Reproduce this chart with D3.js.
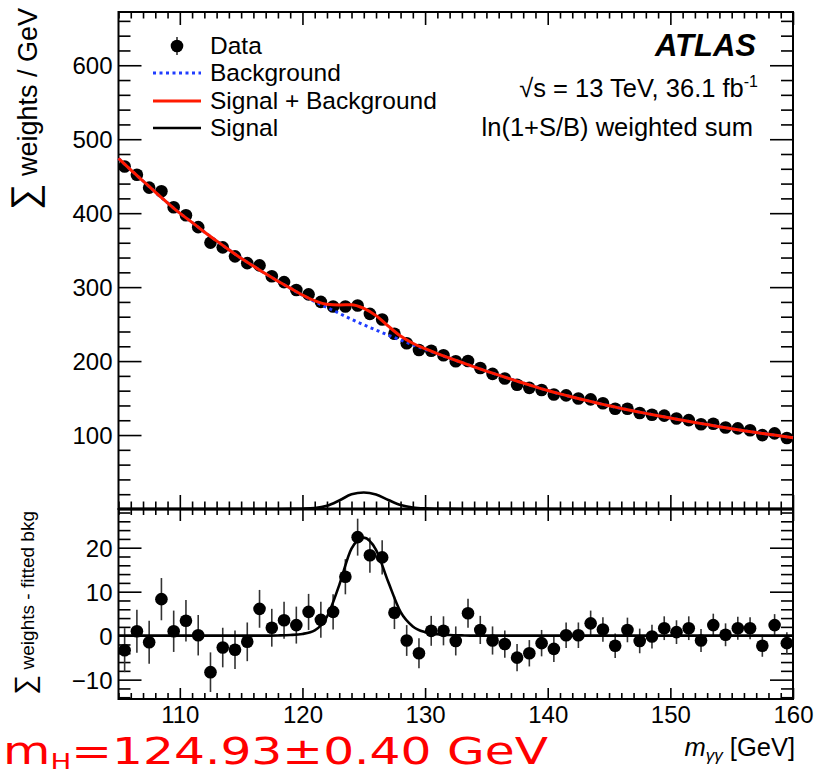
<!DOCTYPE html>
<html>
<head>
<meta charset="utf-8">
<script src="https://cdn.jsdelivr.net/npm/d3@7"></script>
<style>
body { margin: 0; background: #fff; }
text { font-family: "Liberation Sans", Arial, sans-serif; fill: #000; }
</style>
</head>
<body>
<div id="chart"></div>
<script>
// 1 GeV bins of m_yy
var massBins = [105.5,106.5,107.5,108.5,109.5,110.5,111.5,112.5,113.5,114.5,
  115.5,116.5,117.5,118.5,119.5,120.5,121.5,122.5,123.5,124.5,
  125.5,126.5,127.5,128.5,129.5,130.5,131.5,132.5,133.5,134.5,
  135.5,136.5,137.5,138.5,139.5,140.5,141.5,142.5,143.5,144.5,
  145.5,146.5,147.5,148.5,149.5,150.5,151.5,152.5,153.5,154.5,
  155.5,156.5,157.5,158.5,159.5];

// sum of weights per GeV (upper panel)
var weightSum = [463.0,452.0,434.5,429.6,408.0,397.2,381.1,360.2,353.8,341.6,
  332.4,329.4,314.8,306.8,296.2,290.2,280.1,273.9,273.9,275.2,
  263.8,256.3,237.0,224.2,215.0,214.0,207.9,199.7,200.2,190.7,
  182.7,176.4,168.0,163.8,161.0,154.9,153.6,149.5,148.2,142.9,
  135.5,135.6,129.8,127.5,126.3,122.4,120.2,114.5,115.2,110.1,
  109.0,106.4,99.9,102.3,95.9];

// weights - fitted bkg (lower panel)
var residuals = [-3.3,1.0,-1.5,8.3,1.0,3.4,0.1,-8.3,-2.7,-3.2,
  -1.4,6.1,1.8,3.5,2.4,5.4,3.6,5.4,13.4,22.4,
  18.3,17.8,5.2,-1.1,-4.0,1.1,1.1,-1.2,5.1,1.3,
  -1.1,-1.9,-5.0,-4.0,-1.7,-3.0,0.1,0.1,2.8,1.4,
  -2.3,1.3,-1.2,-0.2,1.7,0.8,1.7,-1.1,2.4,0.2,
  1.7,1.7,-2.3,2.4,-1.7];

var errors = [5.0,4.9,4.9,4.8,4.7,4.7,4.6,4.5,4.5,4.4,
  4.4,4.3,4.3,4.2,4.2,4.1,4.1,4.0,4.0,4.2,
  4.0,3.9,3.7,3.5,3.4,3.4,3.3,3.3,3.3,3.2,
  3.2,3.1,3.1,3.0,3.0,3.0,2.9,2.9,2.9,2.8,
  2.8,2.8,2.8,2.7,2.7,2.7,2.7,2.6,2.6,2.6,
  2.6,2.5,2.5,2.5,2.5];

// fit curves, sampled every GeV
var fitMass = [105,106,107,108,109,110,111,112,113,114,
  115,116,117,118,119,120,121,122,123,124,
  125,126,127,128,129,130,131,132,133,134,
  135,136,137,138,139,140,141,142,143,144,
  145,146,147,148,149,150,151,152,153,154,
  155,156,157,158,159,160];

var bkgFit = [474,458.5,443.5,428.5,414,400,387.5,374.5,362.5,350.5,
  339,328.5,318,308,298.5,289,280.5,272.5,264.5,256.5,
  249,242,235,228.5,222,216,209.8,203.8,198,192.2,
  186.5,181,175.6,170.4,165.2,160.2,155.6,151.4,147.4,143.4,
  139.5,136,132.6,129.3,126.1,123,120,117,114.2,111.3,
  108.5,105.9,103.4,101,98.7,96.4];

var sigBkgFit = [474,458.5,443.5,428.5,414,400,387.5,374.5,362.5,350.5,
  339,328.5,318,308.05,298.65,289.4,281.7,276.8,276,276.3,
  271.3,261.5,247.2,233.9,224.1,216.8,210.15,203.95,198.06,192.2,
  186.5,181,175.6,170.4,165.2,160.2,155.6,151.4,147.4,143.4,
  139.5,136,132.6,129.3,126.1,123,120,117,114.2,111.3,
  108.5,105.9,103.4,101,98.7,96.4];

var signalFit = [0,0,0,0,0,0,0,0,0,0,
  0,0,0,0.05,0.15,0.4,1.2,4.3,11.5,19.8,
  22.3,19.5,12.2,5.4,2.1,0.8,0.35,0.15,0.06,0,
  0,0,0,0,0,0,0,0,0,0,
  0,0,0,0,0,0,0,0,0,0,
  0,0,0,0,0,0];

var xLabels = [110,120,130,140,150,160];
var yTopLabels = [100,200,300,400,500,600];
var yBotLabels = [-10,0,10,20];

var legendNames = ["Data","Background","Signal + Background","Signal"];

var FS = 24;   // main font size
var RED = "#ff1a00", BLUE = "#1f3cff";

var svg = d3.select("#chart").append("svg")
  .attr("width", 816)
  .attr("height", 777);

var x = d3.scaleLinear().domain([105, 160]).range([118.5, 793]);
var yTop = d3.scaleLinear().domain([0, 672]).range([509, 12]);
var yBot = d3.scaleLinear().domain([-14.4, 28.8]).range([699, 509]);

// ---- axes (ROOT style: ticks inside, on all four sides)
function addAxis(axisFn, scale, at, values, size, labelled) {
  var ax = axisFn(scale).tickValues(values).tickSize(size).tickPadding(labelled ? 6 : 0);
  if (!labelled) ax.tickFormat("");
  var g = svg.append("g").attr("transform", at).call(ax);
  g.select(".domain").remove();
  g.selectAll("line").attr("stroke", "#000").attr("stroke-width", 1.6);
  g.selectAll("text").attr("font-size", FS).attr("fill", "#000")
    .style("font-family", "'Liberation Sans', Arial, sans-serif");
  return g;
}

var xMinor = x.ticks(55).filter(v => xLabels.indexOf(v) < 0);
var yTopMinor = yTop.ticks(34).filter(v => v > 0 && yTopLabels.indexOf(v) < 0);
var yBotMinor = yBot.ticks(22).filter(v => yBotLabels.indexOf(v) < 0);

// upper panel
addAxis(d3.axisLeft, yTop, "translate(118.5,0)", yTopLabels, -23, true)
  .selectAll("text").attr("x", -6).attr("dy", "0.36em");
addAxis(d3.axisLeft, yTop, "translate(118.5,0)", yTopMinor, -12, false);
addAxis(d3.axisRight, yTop, "translate(793,0)", yTopLabels, -23, false);
addAxis(d3.axisRight, yTop, "translate(793,0)", yTopMinor, -12, false);
addAxis(d3.axisTop, x, "translate(0,12)", xLabels, -13, false);
addAxis(d3.axisTop, x, "translate(0,12)", xMinor, -6.5, false);
addAxis(d3.axisBottom, x, "translate(0,509)", xLabels, -14, false);
addAxis(d3.axisBottom, x, "translate(0,509)", xMinor, -7.5, false);

// lower panel
addAxis(d3.axisLeft, yBot, "translate(118.5,0)", yBotLabels, -23, true)
  .selectAll("text").attr("x", -6).attr("dy", "0.36em");
addAxis(d3.axisLeft, yBot, "translate(118.5,0)", yBotMinor, -12, false);
addAxis(d3.axisRight, yBot, "translate(793,0)", yBotLabels, -23, false);
addAxis(d3.axisRight, yBot, "translate(793,0)", yBotMinor, -12, false);
addAxis(d3.axisTop, x, "translate(0,509)", xLabels, -12, false);
addAxis(d3.axisTop, x, "translate(0,509)", xMinor, -6, false);
addAxis(d3.axisBottom, x, "translate(0,699)", xLabels, -11, true)
  .selectAll("text").attr("y", 7);
addAxis(d3.axisBottom, x, "translate(0,699)", xMinor, -6, false);

// frames
svg.append("rect").attr("x", 118.5).attr("y", 12).attr("width", 793 - 118.5).attr("height", 509 - 12)
  .attr("fill", "none").attr("stroke", "#000").attr("stroke-width", 2);
svg.append("rect").attr("x", 118.5).attr("y", 509).attr("width", 793 - 118.5).attr("height", 699 - 509)
  .attr("fill", "none").attr("stroke", "#000").attr("stroke-width", 2);
svg.append("line").attr("x1", 118.5).attr("x2", 793).attr("y1", 509).attr("y2", 509)
  .attr("stroke", "#000").attr("stroke-width", 3);

// ---- data points
function drawPoints(yScale, values) {
  var g = svg.append("g");
  g.selectAll("line.err").data(values).enter().append("line")
    .attr("class", "err")
    .attr("x1", (d, i) => x(massBins[i])).attr("x2", (d, i) => x(massBins[i]))
    .attr("y1", (d, i) => yScale(d - errors[i])).attr("y2", (d, i) => yScale(d + errors[i]))
    .attr("stroke", "#333").attr("stroke-width", 1.6);
  g.selectAll("circle").data(values).enter().append("circle")
    .attr("cx", (d, i) => x(massBins[i]))
    .attr("cy", d => yScale(d))
    .attr("r", 6.3)
    .attr("fill", "#000");
}
drawPoints(yTop, weightSum);
drawPoints(yBot, residuals);

// ---- fit curves
function curve(yScale, values) {
  return d3.line()
    .x((d, i) => x(fitMass[i]))
    .y(d => yScale(d))
    .curve(d3.curveMonotoneX)(values);
}
svg.append("path").attr("d", curve(yTop, bkgFit))
  .attr("fill", "none").attr("stroke", BLUE).attr("stroke-width", 3).attr("stroke-dasharray", "3,3.5");
svg.append("path").attr("d", curve(yTop, signalFit))
  .attr("fill", "none").attr("stroke", "#000").attr("stroke-width", 2.6);
svg.append("path").attr("d", curve(yTop, sigBkgFit))
  .attr("fill", "none").attr("stroke", RED).attr("stroke-width", 3);
svg.append("path").attr("d", curve(yBot, signalFit))
  .attr("fill", "none").attr("stroke", "#000").attr("stroke-width", 2.6);

// ---- legend
var legY = [46, 73, 101, 128];
var leg = svg.append("g");
leg.append("line").attr("x1", 177).attr("x2", 177).attr("y1", legY[0] - 9).attr("y2", legY[0] + 9)
  .attr("stroke", "#333").attr("stroke-width", 1.6);
leg.append("circle").attr("cx", 177).attr("cy", legY[0]).attr("r", 6.3).attr("fill", "#000");
leg.append("line").attr("x1", 153).attr("x2", 201).attr("y1", legY[1]).attr("y2", legY[1])
  .attr("stroke", BLUE).attr("stroke-width", 3).attr("stroke-dasharray", "3,3.5");
leg.append("line").attr("x1", 153).attr("x2", 201).attr("y1", legY[2]).attr("y2", legY[2])
  .attr("stroke", RED).attr("stroke-width", 3);
leg.append("line").attr("x1", 153).attr("x2", 201).attr("y1", legY[3]).attr("y2", legY[3])
  .attr("stroke", "#000").attr("stroke-width", 2.6);
leg.selectAll("text").data(legendNames).enter().append("text")
  .attr("x", 210).attr("y", (d, i) => legY[i] + 8)
  .attr("font-size", 24.5)
  .text(d => d);

// ---- ATLAS label
svg.append("text").attr("x", 756).attr("y", 56)
  .attr("text-anchor", "end").attr("font-size", 31)
  .attr("font-weight", "bold").attr("font-style", "italic")
  .text("ATLAS");
var lumi = svg.append("text").attr("x", 758).attr("y", 97)
  .attr("text-anchor", "end").attr("font-size", 25.5);
lumi.append("tspan").text("\u221As = 13 TeV, 36.1 fb");
lumi.append("tspan").attr("dy", -10).attr("font-size", 16).text("-1");
svg.append("text").attr("x", 753).attr("y", 136)
  .attr("text-anchor", "end").attr("font-size", 25.5)
  .text("ln(1+S/B) weighted sum");

// ---- axis titles
var yt = svg.append("text")
  .attr("transform", "translate(37,8) rotate(-90)")
  .attr("text-anchor", "end").attr("font-size", 27);
yt.append("tspan").attr("font-size", 37).text("\u2211");
yt.append("tspan").text(" weights / GeV");

var yb = svg.append("text")
  .attr("transform", "translate(34,511) rotate(-90)")
  .attr("text-anchor", "end").attr("font-size", 19);
yb.append("tspan").attr("font-size", 28).text("\u2211");
yb.append("tspan").text(" weights - fitted bkg");

var xt = svg.append("text").attr("x", 795).attr("y", 756)
  .attr("text-anchor", "end").attr("font-size", 25.5);
xt.append("tspan").attr("font-style", "italic").text("m");
xt.append("tspan").attr("font-style", "italic").attr("font-size", 17).attr("dy", 5).text("\u03B3\u03B3");
xt.append("tspan").attr("dy", -5).text(" [GeV]");

// ---- hand-written mass result
var mh = svg.append("text").attr("x", 3).attr("y", 764)
  .attr("font-size", 37).attr("fill", "#ff0000")
  .style("font-family", "'DejaVu Sans', sans-serif")
  .attr("textLength", 545).attr("lengthAdjust", "spacingAndGlyphs");
mh.append("tspan").attr("fill", "#ff0000").text("m");
mh.append("tspan").attr("fill", "#ff0000").attr("font-size", 21).attr("dy", 5).text("H");
mh.append("tspan").attr("fill", "#ff0000").attr("dy", -5).text("=124.93\u00B10.40 GeV");
</script>
</body>
</html>
